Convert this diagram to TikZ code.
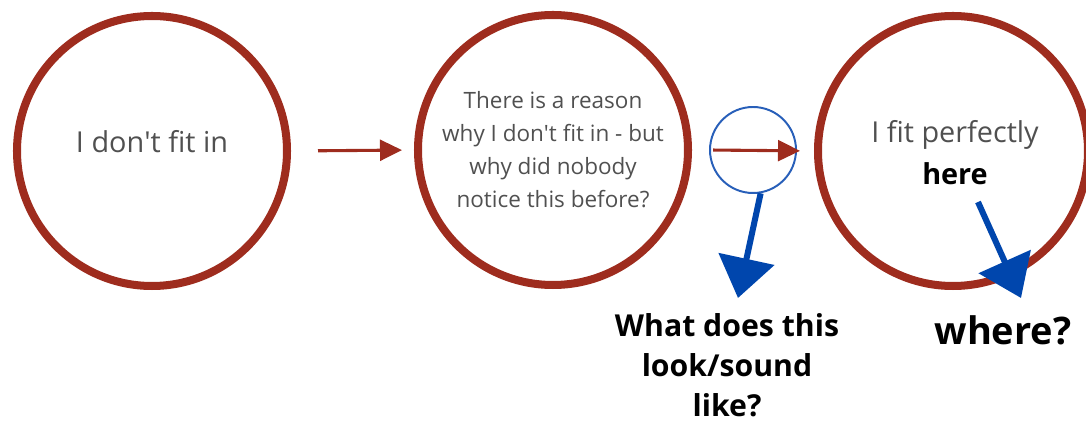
\documentclass[tikz,border=0pt]{standalone}
\usepackage{fontspec}
\setmainfont{Open Sans}
\usepackage{tikz}
\usetikzlibrary{arrows.meta,positioning,calc}
\definecolor{ringred}{RGB}{158,44,30}
\definecolor{arrblue}{RGB}{0,70,173}
\definecolor{thinblue}{RGB}{40,95,185}
\definecolor{softtext}{RGB}{80,80,80}

\begin{document}
\begin{tikzpicture}[
    ring/.style={circle, draw=ringred, line width=5.7pt, minimum size=6.75cm, inner sep=0pt, align=center},
    soft/.style={text=softtext, font=\fontsize{20.5}{30}\selectfont, align=center},
    redarr/.style={-{Triangle[length=0.55cm,width=0.52cm]}, line width=2.2pt, ringred},
    bluearr/.style={-{Triangle[length=1cm,width=1.4cm]}, line width=4.3pt, arrblue},
    qtext/.style={align=center, font=\bfseries\fontsize{21.5}{28.5}\selectfont}
]
\useasboundingbox (0,0) rectangle (27.15,10.625);
\clip (0,0) rectangle (27.15,10.625);

% the three stages
\node[ring] (nofit) at (3.8,6.85) {};
\node[soft] (nofittext) at (3.8,7.08) {I don\textquotesingle t fit in};
\node[ring, text=softtext, font=\fontsize{16}{23.5}\selectfont] (reason) at (13.825,6.875)
    {There is a reason\\why I don\textquotesingle t fit in - but\\why did nobody\\notice this before?};
\node[ring] (fits) at (23.825,6.85) {};
\node[soft] (fitstext) at (23.875,6.8) {I fit perfectly\\\textcolor{black}{\bfseries here}};

% small probe circle
\node[circle, draw=thinblue, line width=1.4pt, minimum size=2.15cm] (probe) at (18.825,6.875) {};

\draw[redarr, shorten <=0.675cm, shorten >=0.3cm] (nofit.east) -- (reason.west);
\draw[redarr, shorten <=0.1cm, shorten >=0.35cm] (probe.west) -- (fits.west);

% questions
\coordinate (lookpt) at (18.45,3.175);
\coordinate (herefrom) at (24.45,5.575);
\coordinate (herept) at (25.525,3.175);
\draw[bluearr] (probe.-80) -- (lookpt);
\draw[bluearr] (herefrom) -- (herept);

\node[qtext] (lookq) at (18.175,1.49) {What does this\\look/sound\\like?};
\node[font=\bfseries\fontsize{27}{32}\selectfont] (whereq) at (25.075,2.36) {where?};
\end{tikzpicture}
\end{document}
